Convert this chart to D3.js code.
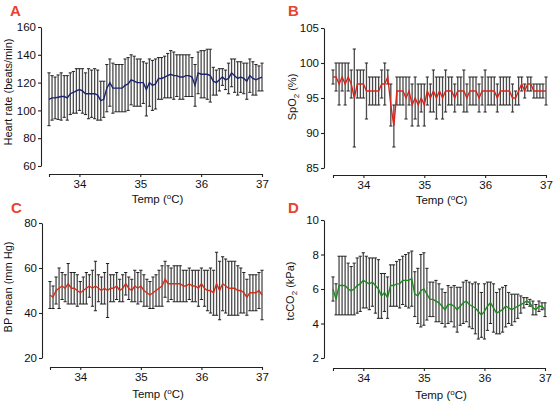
<!DOCTYPE html>
<html><head><meta charset="utf-8">
<script src="https://cdn.jsdelivr.net/npm/d3@7"></script>
<style>
body{margin:0;background:#fff;}
svg{display:block;font-family:"Liberation Sans",Arial,Helvetica,sans-serif;}
</style></head>
<body><svg id="c" width="553" height="402"></svg>
<script>
const temps = [33.5,33.55,33.6,33.65,33.7,33.75,33.8,33.85,33.9,33.95,
34.0,34.05,34.1,34.15,34.2,34.25,34.3,34.35,34.4,34.45,
34.5,34.55,34.6,34.65,34.7,34.75,34.8,34.85,34.9,34.95,
35.0,35.05,35.1,35.15,35.2,35.25,35.3,35.35,35.4,35.45,
35.5,35.55,35.6,35.65,35.7,35.75,35.8,35.85,35.9,35.95,
36.0,36.05,36.1,36.15,36.2,36.25,36.3,36.35,36.4,36.45,
36.5,36.55,36.6,36.65,36.7,36.75,36.8,36.85,36.9,36.95,37.0];

const xTicks = [33.5,34,35,36,37];

const hrMean = [108,109,109,109.5,110,110,109,112,113,114,115,114,112,112,112,112,111,107,108,116,120,116,116,116,116,118,119,122,121,120,120,120,115,120,118,119,123,123,124,125,126,125,125,124,124,125,125,124,118,127,126,126,126,125,121,120,122,124,122,123,127,125,123,124,123,121,125,123,122,123,124];
const hrSD = [19,16,15,16,17,15,16,15,15,16,15,16,15,18,17,18,18,14,13,17,17,18,17,17,17,19,19,18,18,17,17,15,19,17,18,18,15,15,15,16,17,17,15,16,16,15,15,14,15,15,17,17,18,19,10,9,8,6,7,11,10,12,12,11,11,13,12,12,11,9,10];
const hrTicks = [60,80,100,120,140,160];

const spo2Mean = [98,98,97,98,97,98,97,95,97,97,97,96,96,96,96,96,97,97,98,94,91,96,96,96,95,96,94,95,94,95,94,96,95,96,95,96,95,96,96,96,95,96,96,96,95,96,96,96,95,96,96,96,96,96,95,96,96,96,96,95,95,96,97,96,97,97,96,96,96,96,96];
const spo2SD = [1,2,3,2,3,2,2,7,2,2,2,4,2,2,2,2,2,3,1,3,3,2,2,2,3,2,3,3,3,2,3,2,2,3,3,2,3,3,2,2,2,2,2,3,2,2,2,2,2,2,3,2,2,2,2,2,2,2,2,2,1,2,1,1,1,1,1,1,1,1,2];
const spo2Ticks = [85,90,95,100,105];

const bpMean = [48,47,50,51,52,51,53,51,51,50,49,50,51,52,51,52,51,50,51,50,51,51,52,50,51,53,51,50,52,51,52,50,49,48,49,50,51,52,55,53,53,53,53,53,52,52,53,52,52,51,53,51,50,50,49,53,50,53,52,51,51,51,50,50,49,47,49,49,49,50,48];
const bpSD = [6,5,6,9,6,6,9,7,7,7,5,6,7,5,8,11,6,6,7,12,6,6,6,5,6,5,5,5,7,7,7,7,6,6,7,7,8,9,8,8,7,8,8,8,7,7,7,7,7,8,7,8,9,10,10,14,13,12,12,12,12,12,11,10,9,8,8,8,8,8,11];
const bpTicks = [20,40,60,80];

const co2Mean = [6.0,5.4,6.2,6.2,6.2,6.0,5.9,6.0,6.2,6.3,6.5,6.4,6.3,6.4,6.2,6.0,5.6,5.8,5.5,6.2,6.2,6.3,6.3,6.5,6.5,6.5,6.6,5.7,5.6,5.9,6.0,5.7,5.4,5.4,5.3,5.2,5.0,4.8,5.1,5.1,5.0,4.8,5.0,5.2,5.3,5.1,5.0,4.9,4.7,4.5,4.7,5.0,5.2,4.9,4.6,4.7,4.8,5.0,4.9,4.8,4.9,5.0,5.1,5.2,5.3,5.2,4.9,4.8,5.0,5.0,4.8];
const co2SD = [0.7,0.9,1.7,1.7,1.7,1.5,1.4,1.5,1.6,1.6,1.6,1.5,1.5,1.4,1.6,1.7,1.3,1.1,1.2,1.2,1.2,1.3,1.4,1.4,1.5,1.6,1.6,1.3,1.6,2.1,2.1,1.5,1.0,1.0,1.2,1.1,1.0,1.0,1.1,1.0,1.2,1.3,1.1,1.2,1.2,1.3,1.3,1.5,1.6,1.3,1.6,1.4,1.2,1.4,1.2,1.3,1.3,1.2,0.9,0.9,0.8,0.7,0.5,0.3,0.2,0.2,0.4,0.3,0.3,0.2,0.4];
const co2Ticks = [2,4,6,8,10];

const panels = [
  {letter:"A", mean:hrMean, sd:hrSD, ticks:hrTicks, color:"#1b2470",
   ylabel:["Heart rate (beats/min)"], x0:49, x1:262, yTop:27, yBot:166, xAxisY:174, yAxisX:41,
   labX:12, labY:92, letX:10, letY:16, titleY:203},
  {letter:"B", mean:spo2Mean, sd:spo2SD, ticks:spo2Ticks, color:"#d8251c",
   ylabel:["SpO","2"," (%)"], x0:333, x1:546, yTop:28, yBot:168, xAxisY:175, yAxisX:324,
   labX:296, labY:97, letX:288, letY:16, titleY:204},
  {letter:"C", mean:bpMean, sd:bpSD, ticks:bpTicks, color:"#d0301c",
   ylabel:["BP mean (mm Hg)"], x0:50, x1:262, yTop:223, yBot:358, xAxisY:367, yAxisX:42,
   labX:12, labY:287, letX:11, letY:213, titleY:398},
  {letter:"D", mean:co2Mean, sd:co2SD, ticks:co2Ticks, color:"#1f8a1f",
   ylabel:["tcCO","2"," (kPa)"], x0:333, x1:545, yTop:220, yBot:358, xAxisY:368, yAxisX:324,
   labX:294, labY:291, letX:288, letY:213, titleY:399}
];

const svg = d3.select("#c");

panels.forEach(p => {
  const g = svg.append("g");
  const x = d3.scaleLinear().domain([33.5, 37]).range([p.x0, p.x1]);
  const y = d3.scaleLinear().domain([p.ticks[0], p.ticks[p.ticks.length-1]]).range([p.yBot, p.yTop]);
  const data = temps.map((t,i) => ({t, m:p.mean[i], s:p.sd[i]}));

  const eb = g.append("g");
  eb.selectAll("line.v").data(data).join("line").attr("class","v")
    .attr("x1", d => x(d.t)).attr("x2", d => x(d.t))
    .attr("y1", d => y(d.m + d.s)).attr("y2", d => y(d.m - d.s))
    .attr("stroke", "#4a4a4a").attr("stroke-width", 1.3);
  ["top","bot"].forEach(k => {
    eb.selectAll("line."+k).data(data).join("line").attr("class",k)
      .attr("x1", d => x(d.t) - 1.6).attr("x2", d => x(d.t) + 1.6)
      .attr("y1", d => y(k==="top" ? d.m + d.s : d.m - d.s))
      .attr("y2", d => y(k==="top" ? d.m + d.s : d.m - d.s))
      .attr("stroke", "#222").attr("stroke-width", 1);
  });

  g.append("path").datum(data)
    .attr("d", d3.line().x(d => x(d.t)).y(d => y(d.m)))
    .attr("fill","none").attr("stroke", p.color).attr("stroke-width", 1.4);

  const ya = g.append("g").attr("transform", `translate(${p.yAxisX},0)`)
    .call(d3.axisLeft(y).tickValues(p.ticks).tickSize(3).tickSizeOuter(0).tickPadding(2));
  const xa = g.append("g").attr("transform", `translate(0,${p.xAxisY})`)
    .call(d3.axisBottom(x).tickValues(xTicks).tickSize(3).tickSizeOuter(0).tickPadding(3)
      .tickFormat(d => d === 33.5 ? "" : d3.format("d")(d)));
  [ya, xa].forEach(a => {
    a.selectAll("path,line").attr("stroke","#222").attr("stroke-width",1.1);
    a.selectAll("text").attr("font-size", 11.5).attr("fill","#111")
      .attr("font-family", '"Liberation Sans",Arial,sans-serif');
  });

  const xt = g.append("text").attr("x", (p.x0 + p.x1)/2 + 2).attr("y", p.titleY)
    .attr("text-anchor","middle").attr("font-size", 11.5).attr("fill","#111");
  xt.append("tspan").text("Temp (");
  xt.append("tspan").text("o").attr("font-size", 8).attr("dy", -4);
  xt.append("tspan").text("C)").attr("dy", 4);

  const yt = g.append("text").attr("transform", `translate(${p.labX},${p.labY}) rotate(-90)`)
    .attr("text-anchor","middle").attr("font-size", 11).attr("fill","#111");
  if (p.ylabel.length === 1) {
    yt.text(p.ylabel[0]);
  } else {
    yt.append("tspan").text(p.ylabel[0]);
    yt.append("tspan").text(p.ylabel[1]).attr("font-size", 8).attr("dy", 3);
    yt.append("tspan").text(p.ylabel[2]).attr("dy", -3);
  }

  g.append("text").attr("x", p.letX).attr("y", p.letY).text(p.letter)
    .attr("font-size", 15).attr("font-weight","bold").attr("fill","#e8432f");
});
</script></body></html>
